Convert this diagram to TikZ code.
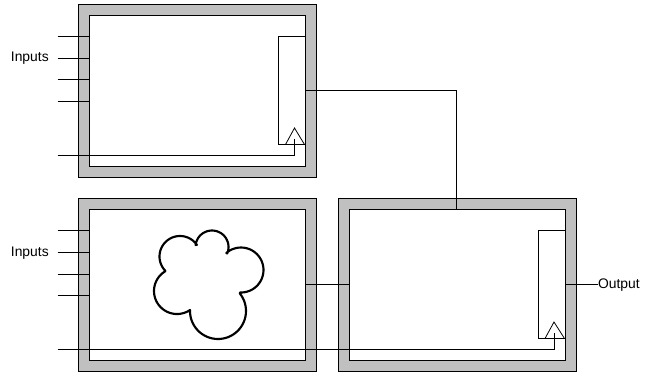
\documentclass[tikz,border=0pt]{standalone}
\usepackage{fontspec}
\setmainfont{Liberation Sans}
\definecolor{wallgray}{HTML}{C0C0C0}
\tikzset{
  outerbox/.style={draw=black,fill=wallgray,line width=0.75pt,inner sep=0pt,outer sep=0pt,minimum width=178.5pt,minimum height=129.75pt},
  innerbox/.style={draw=black,fill=white,line width=0.75pt,inner sep=0pt,outer sep=0pt,minimum width=162pt,minimum height=113.25pt},
  latchbox/.style={draw=black,line width=0.75pt,inner sep=0pt,outer sep=0pt,minimum width=20.25pt,minimum height=81pt},
  clocktri/.style={draw=black,line width=0.6pt,line join=miter},
  wire/.style={draw=black,line width=0.75pt},
  cloudline/.style={draw=black,line width=1.6pt,line join=round},
  lbl/.style={inner sep=0pt,outer sep=0pt,font=\fontsize{10.4pt}{12pt}\selectfont}
}
\begin{document}
\begin{tikzpicture}[x=0.75pt,y=-0.75pt]
\useasboundingbox (0,0) rectangle (656,376);
% boxes
\node[outerbox] (o1) at (197.5,90.5) {};
\node[innerbox] (i1) at (197.5,90.5) {};
\node[outerbox] (o2) at (197.5,284.75) {};
\node[innerbox] (i2) at (197.5,285) {};
\node[outerbox] (o3) at (457,284.75) {};
\node[innerbox] (i3) at (457,285) {};
% latches
\node[latchbox] (l1) at (292,90.5) {};
\node[latchbox] (l3) at (551.5,284.5) {};
% clock triangles
\coordinate (t1a) at (294.5,128);
\coordinate (t1b) at (285.5,144.5);
\coordinate (t1c) at (304.5,144.5);
\coordinate (t3a) at (554,322);
\coordinate (t3b) at (545,338.5);
\coordinate (t3c) at (564.5,338.5);
\draw[clocktri] (t1a) -- (t1b) -- (t1c) -- cycle;
\draw[clocktri] (t3a) -- (t3b) -- (t3c) -- cycle;
% free ends
\foreach \n/\y in {a/36.5,b/58,c/79.5,d/101}{
  \coordinate (s1\n) at (57.5,\y);
  \coordinate (e1\n) at (89.5,\y);
  \draw[wire] (s1\n) -- (e1\n);
}
\foreach \n/\y in {a/230.5,b/252,c/274,d/295.5}{
  \coordinate (s2\n) at (57.5,\y);
  \coordinate (e2\n) at (89.5,\y);
  \draw[wire] (s2\n) -- (e2\n);
}
% clocks
\coordinate (c1s) at (57.5,155);
\coordinate (c1i) at (294.5,139);
\draw[wire] (c1s) -- (294.5,155) -- (c1i);
\coordinate (c2s) at (57.5,349.5);
\coordinate (c2i) at (554,333);
\draw[wire] (c2s) -- (554,349.5) -- (c2i);
% connections
\draw[wire] (l1.east) -- (456.5,90.5) -- (i3.north -| 456.5,0);
\coordinate (b2out) at (305.5,284.5);
\coordinate (b3in) at (348.75,284.5);
\draw[wire] (b2out) -- (b3in);
% output
\node[lbl,anchor=west] (out) at (598,285) {Output};
\draw[wire] (l3.east) -- (l3.east -| out.west);
% labels
\node[lbl,anchor=east] (in1) at (48.7,58) {Inputs};
\node[lbl,anchor=east] (in2) at (48.7,253) {Inputs};
% cloud
\draw[cloudline]
  plot[samples=40,domain=187:383] ({212+16.5*cos(\x)},{247+16.5*sin(\x)})
  -- plot[samples=40,domain=229.4:452.5] ({241+22.5*cos(\x)},{270+22.5*sin(\x)})
  -- plot[samples=40,domain=-38.8:182] ({218+28*cos(\x)},{311+28*sin(\x)})
  -- plot[samples=40,domain=57:239.4] ({177+23*cos(\x)},{291+23*sin(\x)})
  -- plot[samples=40,domain=136.6:325.4] ({180+20.5*cos(\x)},{256.5+20.5*sin(\x)})
  -- cycle;
\end{tikzpicture}
\end{document}
